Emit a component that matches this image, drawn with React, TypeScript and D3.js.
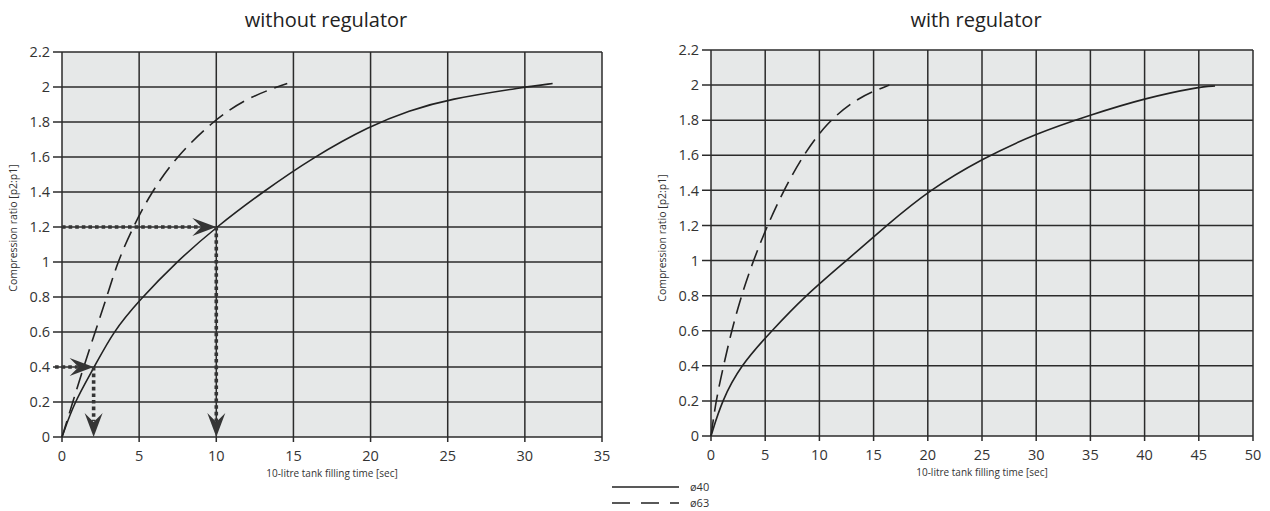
import { useEffect, useRef } from "react";
import * as d3 from "d3";

// chart values
const yTicks = [0, 0.2, 0.4, 0.6, 0.8, 1, 1.2, 1.4, 1.6, 1.8, 2, 2.2];
const xTicksLeft = [0, 5, 10, 15, 20, 25, 30, 35];
const xTicksRight = [0, 5, 10, 15, 20, 25, 30, 35, 40, 45, 50];

const leftD40: [number, number][] = [
  [0, 0], [0.8, 0.2], [2.1, 0.4], [3.3, 0.6], [5, 0.78], [7.4, 1.0], [10, 1.2],
  [13, 1.4], [16.3, 1.6], [20, 1.78], [22.5, 1.865], [25, 1.93], [30, 2.0], [31.8, 2.02],
];
const leftD63: [number, number][] = [
  [0, 0], [0.7, 0.2], [1.4, 0.4], [2.15, 0.6], [2.9, 0.8], [3.6, 1.0], [4.6, 1.2],
  [5.8, 1.4], [7.4, 1.6], [9.7, 1.8], [12, 1.94], [14.6, 2.02],
];
const rightD40: [number, number][] = [
  [0, 0], [1, 0.2], [2.7, 0.4], [5.6, 0.6], [8.7, 0.8], [12.5, 1.0], [16.2, 1.2],
  [20.1, 1.4], [25, 1.58], [30, 1.725], [35, 1.83], [40, 1.925], [45, 1.99], [46.5, 1.995],
];
const rightD63: [number, number][] = [
  [0, 0], [0.45, 0.2], [1.15, 0.4], [1.9, 0.6], [2.8, 0.8], [3.9, 1.0], [5.2, 1.2],
  [6.7, 1.4], [8.5, 1.6], [10.6, 1.78], [13.5, 1.93], [16.45, 2.0],
];

// reading example on the left chart: [from, to]
const leftArrows: [[number, number], [number, number]][] = [
  [[0, 1.2], [10, 1.2]],
  [[10, 1.2], [10, 0]],
  [[-0.45, 0.4], [2.05, 0.4]],
  [[2.05, 0.4], [2.05, 0]],
];

const legendItems = [
  { label: "ø40", dash: "none" },
  { label: "ø63", dash: "18 11" },
];

const FONT = "'Open Sans', 'DejaVu Sans', sans-serif";
const INK = "#2b2b2b";

interface PanelProps {
  title: string;
  xMax: number;
  xTicks: number[];
  x0: number;
  x1: number;
  yTop: number;
  yBottom: number;
  d40: [number, number][];
  d63: [number, number][];
  arrows?: [[number, number], [number, number]][];
  yTitleCenter: number;
}

const Panel = ({ title, xMax, xTicks, x0, x1, yTop, yBottom, d40, d63, arrows = [], yTitleCenter }: PanelProps) => {
  const ref = useRef<SVGGElement | null>(null);

  useEffect(() => {
    const g = d3.select(ref.current);
    g.selectAll("*").remove();

    const x = d3.scaleLinear().domain([0, xMax]).range([x0, x1]);
    const y = d3.scaleLinear().domain([0, 2.2]).range([yBottom, yTop]);

    // plot background
    g.append("rect")
      .attr("x", x0)
      .attr("y", yTop)
      .attr("width", x1 - x0)
      .attr("height", yBottom - yTop)
      .attr("fill", "#e6e8e8");

    // grid
    g.append("g")
      .selectAll("line")
      .data(xTicks)
      .join("line")
      .attr("x1", (d) => x(d))
      .attr("x2", (d) => x(d))
      .attr("y1", yTop)
      .attr("y2", yBottom + 5)
      .attr("stroke", INK)
      .attr("stroke-width", 1.5);
    g.append("g")
      .selectAll("line")
      .data(yTicks)
      .join("line")
      .attr("x1", x0 - 9)
      .attr("x2", x1)
      .attr("y1", (d) => y(d))
      .attr("y2", (d) => y(d))
      .attr("stroke", INK)
      .attr("stroke-width", 1.5);

    // tick labels
    g.append("g")
      .selectAll("text")
      .data(yTicks)
      .join("text")
      .attr("x", x0 - 12)
      .attr("y", (d) => y(d))
      .attr("dy", "0.36em")
      .attr("text-anchor", "end")
      .attr("font-size", 14.5)
      .attr("fill", "#333")
      .text((d) => String(d));
    g.append("g")
      .selectAll("text")
      .data(xTicks)
      .join("text")
      .attr("x", (d) => x(d))
      .attr("y", yBottom + 24)
      .attr("text-anchor", "middle")
      .attr("font-size", 14.5)
      .attr("fill", "#333")
      .text((d) => String(d));

    // axis titles
    g.append("text")
      .attr("x", (x0 + x1) / 2)
      .attr("y", yBottom + 40)
      .attr("text-anchor", "middle")
      .attr("font-size", 10)
      .attr("fill", "#333")
      .text("10-litre tank filling time [sec]");
    g.append("text")
      .attr("transform", `translate(${x0 - 45},${yTitleCenter}) rotate(-90)`)
      .attr("text-anchor", "middle")
      .attr("font-size", 10.5)
      .attr("fill", "#333")
      .text("Compression ratio [p2:p1]");

    // title
    g.append("text")
      .attr("x", (x0 + x1) / 2 - 6)
      .attr("y", 27)
      .attr("text-anchor", "middle")
      .attr("font-size", 20)
      .attr("fill", "#222")
      .text(title);

    // curves
    const line = d3
      .line<[number, number]>()
      .x((d) => x(d[0]))
      .y((d) => y(d[1]))
      .curve(d3.curveBasis);
    g.append("path").attr("d", line(d40)).attr("fill", "none").attr("stroke", "#222").attr("stroke-width", 1.6);
    g.append("path")
      .attr("d", line(d63))
      .attr("fill", "none")
      .attr("stroke", "#222")
      .attr("stroke-width", 1.6)
      .attr("stroke-dasharray", "17 8");

    // dotted arrows
    const headLen = 24;
    arrows.forEach(([from, to]) => {
      const fx = x(from[0]);
      const fy = y(from[1]);
      const tx = x(to[0]);
      const ty = y(to[1]);
      const ang = Math.atan2(ty - fy, tx - fx);
      const ex = tx - Math.cos(ang) * (headLen - 8);
      const ey = ty - Math.sin(ang) * (headLen - 8);
      g.append("line")
        .attr("x1", fx)
        .attr("y1", fy)
        .attr("x2", ex)
        .attr("y2", ey)
        .attr("stroke", "#353535")
        .attr("stroke-width", 3.6)
        .attr("stroke-dasharray", "3.6 3");
      g.append("path")
        .attr("d", `M0,0 L${-headLen},${-9} L${-headLen + 9},0 L${-headLen},${9} Z`)
        .attr("transform", `translate(${tx},${ty}) rotate(${(ang * 180) / Math.PI})`)
        .attr("fill", "#353535");
    });
  }, []);

  return <g ref={ref} fontFamily={FONT} />;
};

const Legend = () => {
  const ref = useRef<SVGGElement | null>(null);
  useEffect(() => {
    const g = d3.select(ref.current);
    g.selectAll("*").remove();
    const y = d3.scalePoint<string>().domain(legendItems.map((d) => d.label)).range([487, 503]);
    const items = g.selectAll("g").data(legendItems).join("g");
    items
      .append("line")
      .attr("x1", 612)
      .attr("x2", 679)
      .attr("y1", (d) => y(d.label))
      .attr("y2", (d) => y(d.label))
      .attr("stroke", "#222")
      .attr("stroke-width", 1.5)
      .attr("stroke-dasharray", (d) => d.dash);
    items
      .append("text")
      .attr("x", 690)
      .attr("y", (d) => y(d.label))
      .attr("dy", "0.35em")
      .attr("font-size", 11)
      .attr("fill", "#333")
      .text((d) => d.label);
  }, []);
  return <g ref={ref} fontFamily={FONT} />;
};

export default function App() {
  return (
    <svg width={1270} height={511} style={{ position: "absolute", left: 0, top: 0, background: "#fff" }}>
      <Panel
        title="without regulator"
        xMax={35}
        xTicks={xTicksLeft}
        x0={62}
        x1={602}
        yTop={52}
        yBottom={437}
        d40={leftD40}
        d63={leftD63}
        arrows={leftArrows}
        yTitleCenter={228}
      />
      <Panel
        title="with regulator"
        xMax={50}
        xTicks={xTicksRight}
        x0={711}
        x1={1253}
        yTop={50}
        yBottom={436}
        d40={rightD40}
        d63={rightD63}
        yTitleCenter={238}
      />
      <Legend />
    </svg>
  );
}
